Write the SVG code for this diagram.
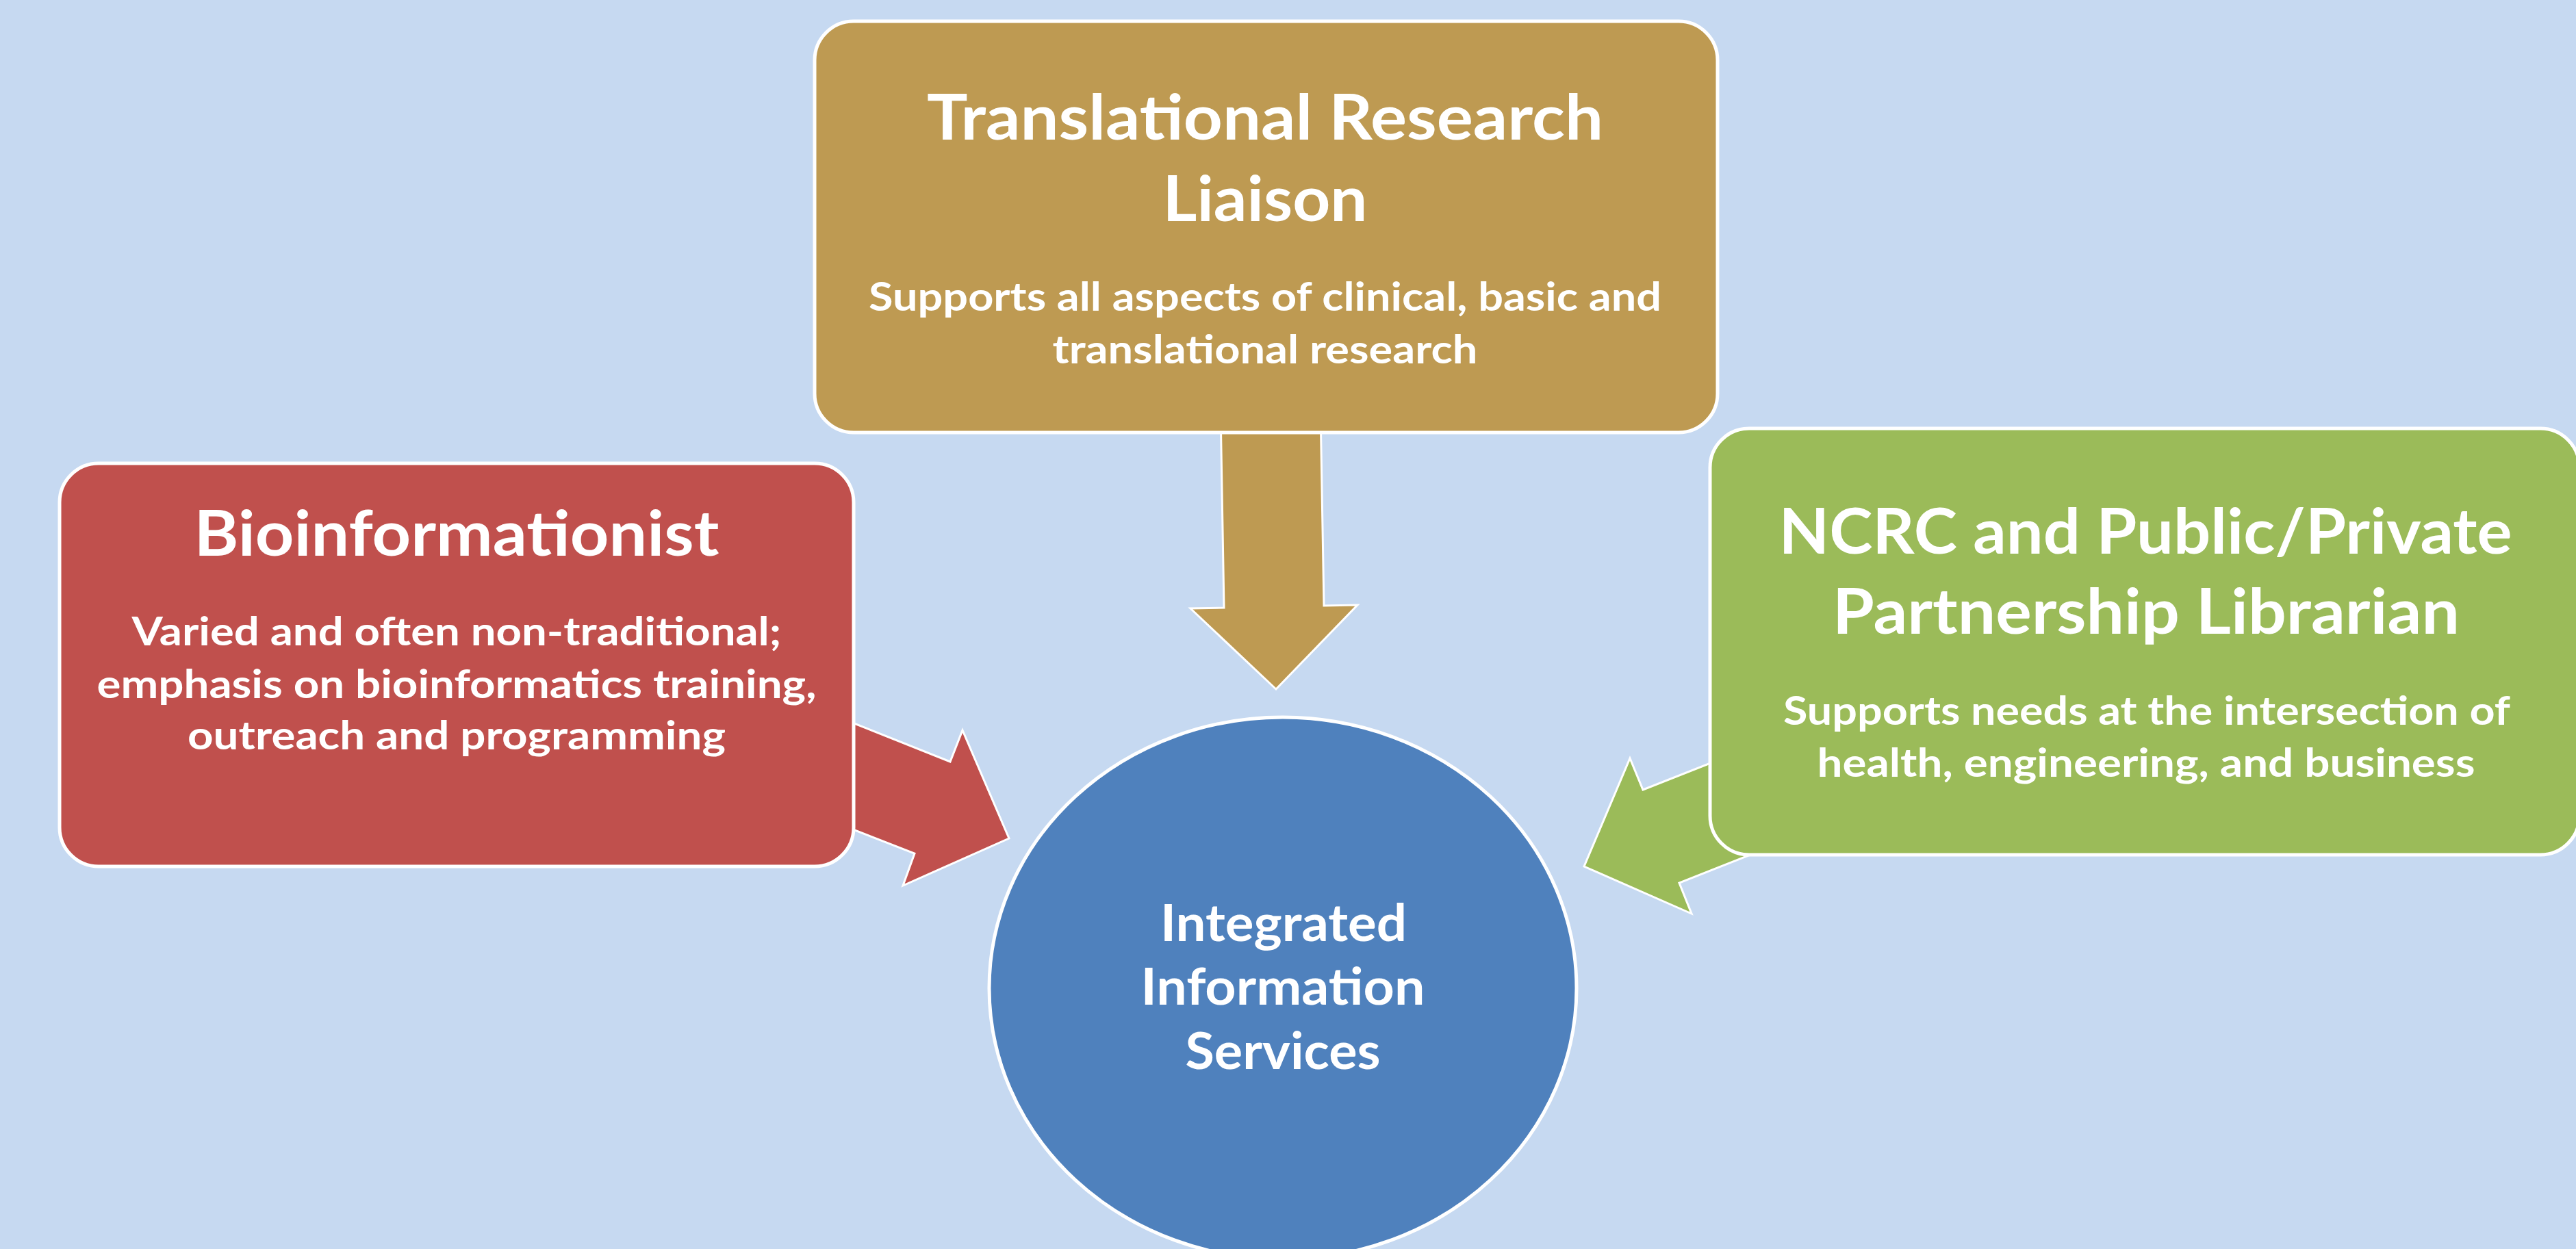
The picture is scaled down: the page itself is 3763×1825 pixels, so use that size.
<svg xmlns="http://www.w3.org/2000/svg" width="3763" height="1825" viewBox="0 0 3763 1825">
  <style>
    .box { stroke: #FFFFFF; stroke-width: 5; }
    .arrow { stroke: #FFFFFF; stroke-width: 3; stroke-linejoin: miter; }
    .t { font-family: Lato, "Open Sans", "Liberation Sans", sans-serif; font-weight: bold; fill: #FFFFFF; text-anchor: middle; }
    .title { font-size: 92px; }
    .sub { font-size: 58px; }
    .center { font-size: 75px; }
  </style>
  <rect x="0" y="0" width="3763" height="1825" fill="#C6D9F1"/>

  <g id="connectors">
    <polygon class="arrow" fill="#BE9A52" points="1783,600 1788,888 1739,889 1864,1007 1983,884 1934,885 1929,600"/>
    <polygon class="arrow" fill="#C0504D" points="1200,1038 1388,1113 1406,1067 1474,1225 1319,1294 1336,1247 1200,1194"/>
    <polygon class="arrow" fill="#9BBB59" points="2600,1075 2400,1154 2381,1108 2314,1266 2471,1335 2453,1290 2600,1232"/>
  </g>

  <g id="node-translational">
    <rect class="box" x="1190" y="31" width="1319" height="601" rx="57" ry="57" fill="#BE9A52"/>
    <text class="t title" x="1848" y="204" textLength="988" lengthAdjust="spacingAndGlyphs">Translational Research</text>
    <text class="t title" x="1848" y="323" textLength="299" lengthAdjust="spacingAndGlyphs">Liaison</text>
    <text class="t sub" x="1848" y="454" textLength="1158" lengthAdjust="spacingAndGlyphs">Supports all aspects of clinical, basic and</text>
    <text class="t sub" x="1848" y="531" textLength="621" lengthAdjust="spacingAndGlyphs">translational research</text>
  </g>

  <g id="node-bioinformationist">
    <rect class="box" x="87" y="677" width="1160" height="589" rx="57" ry="57" fill="#C0504D"/>
    <text class="t title" x="667" y="812" textLength="767" lengthAdjust="spacingAndGlyphs">Bioinformationist</text>
    <text class="t sub" x="667" y="943" textLength="949" lengthAdjust="spacingAndGlyphs">Varied and often non-traditional;</text>
    <text class="t sub" x="667" y="1020" textLength="1051" lengthAdjust="spacingAndGlyphs">emphasis on bioinformatics training,</text>
    <text class="t sub" x="667" y="1095" textLength="786" lengthAdjust="spacingAndGlyphs">outreach and programming</text>
  </g>

  <g id="node-ncrc">
    <rect class="box" x="2498" y="626" width="1270" height="623" rx="57" ry="57" fill="#9BBB59"/>
    <text class="t title" x="3134" y="809" textLength="1071" lengthAdjust="spacingAndGlyphs">NCRC and Public/Private</text>
    <text class="t title" x="3135" y="926" textLength="916" lengthAdjust="spacingAndGlyphs">Partnership Librarian</text>
    <text class="t sub" x="3136" y="1059" textLength="1062" lengthAdjust="spacingAndGlyphs">Supports needs at the intersection of</text>
    <text class="t sub" x="3135" y="1135" textLength="961" lengthAdjust="spacingAndGlyphs">health, engineering, and business</text>
  </g>

  <g id="node-integrated">
    <ellipse class="box" cx="1874" cy="1444" rx="429" ry="396" fill="#4F81BD"/>
    <text class="t center" x="1875" y="1375" textLength="360" lengthAdjust="spacingAndGlyphs">Integrated</text>
    <text class="t center" x="1874" y="1468" textLength="415" lengthAdjust="spacingAndGlyphs">Information</text>
    <text class="t center" x="1874" y="1562" textLength="285" lengthAdjust="spacingAndGlyphs">Services</text>
  </g>
</svg>
